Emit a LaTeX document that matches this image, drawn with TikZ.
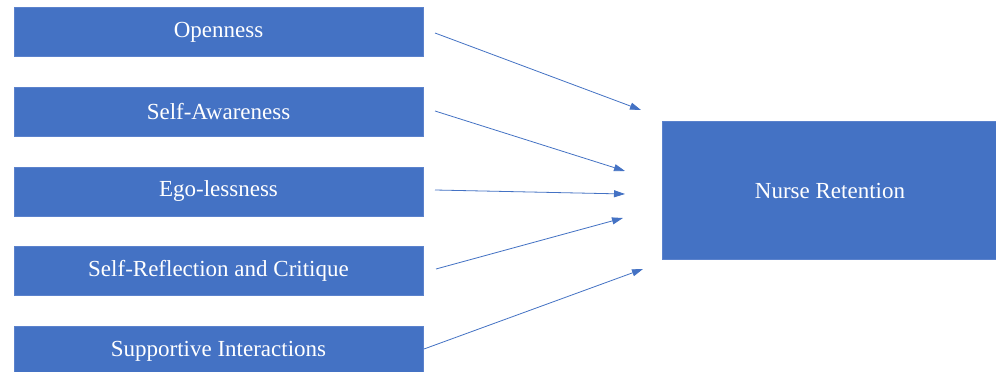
\documentclass[tikz,border=0pt]{standalone}
\usepackage{fontspec}
\setmainfont{Liberation Serif}
\usetikzlibrary{arrows.meta}
\definecolor{boxblue}{HTML}{4472C4}
\definecolor{boxedge}{HTML}{5B82CC}
\begin{document}
\begin{tikzpicture}[x=1pt,y=-1pt,
  factor/.style={draw=boxedge,line width=0.6pt,fill=boxblue,text=white,minimum width=409pt,minimum height=49pt,inner sep=0pt,font=\fontsize{23}{26}\selectfont},
  outcome/.style={draw=boxedge,line width=0.6pt,fill=boxblue,text=white,minimum width=336pt,minimum height=138pt,inner sep=0pt,font=\fontsize{23}{26}\selectfont},
  link/.style={draw=boxblue,line width=0.8pt,-{Triangle[length=11pt,width=7pt]}}]
\useasboundingbox (0,0) rectangle (996,372);
\fill[white] (0,0) rectangle (996,372);
\node[factor] (o) at (218.5,32) {Openness};
\node[factor] (sa) at (218.5,112) {Self-Awareness};
\node[factor] (eg) at (218.5,191.5) {Ego-lessness};
\node[factor] (sr) at (218.5,271) {Self-Reflection and Critique};
\node[factor,minimum height=50pt] (si) at (218.5,351.5) {Supportive Interactions};
\node[outcome] (nr) at (830,190.5) {Nurse Retention};
\coordinate (o1) at (435,33);  \coordinate (o2) at (641,110);
\coordinate (s1) at (435,111); \coordinate (s2) at (625,171);
\coordinate (e1) at (435,190); \coordinate (e2) at (625,194);
\coordinate (r1) at (436,269); \coordinate (r2) at (623,218);
\coordinate (i1) at (424,349); \coordinate (i2) at (643,269);
\draw[link] (o1) -- (o2);
\draw[link] (s1) -- (s2);
\draw[link] (e1) -- (e2);
\draw[link] (r1) -- (r2);
\draw[link] (i1) -- (i2);
\end{tikzpicture}
\end{document}
